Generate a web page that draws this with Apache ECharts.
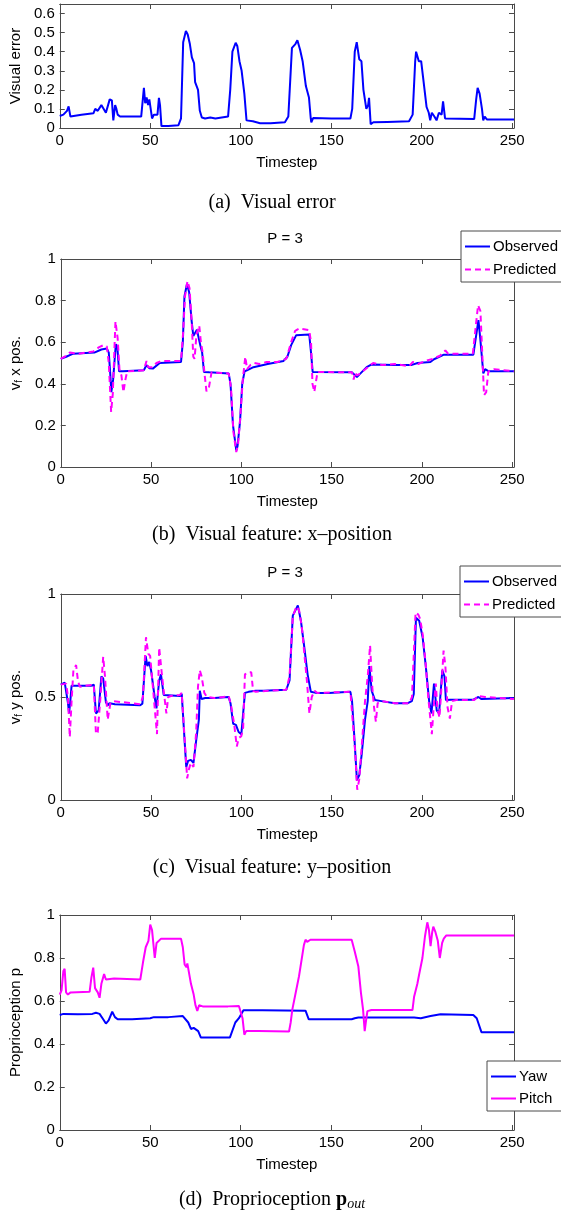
<!DOCTYPE html>
<html>
<head>
<meta charset="utf-8">
<script src="https://cdn.jsdelivr.net/npm/echarts@6/dist/echarts.min.js"></script>
<style>html,body{margin:0;padding:0;background:#fff}#c{width:561px;height:1216px}</style>
</head>
<body>
<div id="c"></div>
<script>
// ---------------- DATA ----------------
const xTicks = [0, 50, 100, 150, 200, 250];

const visualError = [[0,0.063],[2,0.07],[4,0.09],[4.9,0.113],[5.9,0.06],[7,0.07],[12,0.07],[18.6,0.077],[19.6,0.1],[21,0.09],[22,0.1],[23,0.12],[24,0.12],[25.5,0.08],[26.4,0.075],[27.6,0.15],[28.8,0.145],[29.6,0.04],[30.6,0.12],[31.3,0.1],[32,0.07],[33.3,0.06],[45,0.06],[46.5,0.21],[47.2,0.13],[48,0.16],[48.8,0.12],[49.5,0.15],[51,0.05],[52,0.07],[53,0.08],[54,0.07],[54.8,0.158],[55.4,0.12],[56.2,0.01],[60,0.01],[65.6,0.015],[67,0.05],[68.2,0.45],[69.7,0.508],[70.7,0.49],[71.9,0.44],[73,0.37],[74.2,0.34],[74.8,0.24],[76.4,0.2],[77.4,0.09],[78.5,0.055],[80.3,0.05],[83.2,0.055],[86,0.05],[93,0.06],[94.2,0.2],[95.4,0.4],[97.2,0.447],[98.1,0.43],[99.3,0.35],[100.5,0.3],[102,0.18],[103.2,0.04],[106.7,0.035],[110.7,0.025],[116.5,0.025],[124.4,0.03],[126.3,0.06],[128.3,0.42],[130.2,0.44],[131.3,0.46],[132.8,0.41],[134.2,0.35],[136,0.22],[137.7,0.16],[138.7,0.05],[139,0.03],[140,0.052],[150,0.05],[160.6,0.05],[161.6,0.1],[163,0.4],[164.1,0.45],[165.5,0.36],[166.7,0.35],[167.8,0.2],[169.4,0.1],[170.4,0.12],[170.9,0.158],[171.8,0.02],[173.3,0.03],[181,0.032],[193,0.035],[195,0.07],[196.4,0.35],[196.9,0.4],[198.4,0.35],[199.7,0.35],[200.7,0.27],[201.7,0.26],[202.7,0.11],[203.9,0.08],[204.7,0.04],[205.6,0.08],[207,0.06],[208.2,0.04],[209.5,0.08],[211,0.07],[211.8,0.14],[212.9,0.05],[229,0.047],[230.1,0.15],[230.9,0.21],[232,0.18],[233.3,0.1],[234,0.04],[234.8,0.06],[236,0.045],[251,0.045]];

const observedX = [[0,0.52],[3,0.53],[6.9,0.545],[18.6,0.55],[22.5,0.565],[25.5,0.57],[26.6,0.55],[27.4,0.45],[28,0.36],[29,0.42],[30.5,0.59],[31.3,0.58],[32.3,0.46],[34.3,0.46],[46,0.465],[47.5,0.49],[49,0.475],[51,0.473],[54.8,0.5],[66.6,0.505],[67.6,0.6],[68.5,0.82],[69.9,0.88],[71.1,0.84],[72.5,0.7],[73.4,0.63],[74.2,0.626],[75.4,0.66],[76.5,0.658],[77.4,0.58],[78.3,0.55],[79.3,0.457],[82.3,0.455],[93,0.45],[94,0.4],[95.4,0.2],[97.2,0.08],[97.9,0.1],[99.3,0.22],[100.5,0.4],[101.8,0.46],[103.1,0.465],[106.7,0.48],[114.6,0.495],[123.4,0.51],[125.5,0.53],[127.6,0.586],[130.4,0.634],[137.6,0.637],[138.6,0.55],[139.5,0.457],[161.3,0.455],[164,0.433],[166,0.45],[169.4,0.48],[172.2,0.493],[185,0.49],[194,0.49],[197.6,0.5],[204.7,0.505],[206.7,0.518],[212.2,0.54],[228.5,0.54],[229.5,0.6],[231.3,0.706],[232.3,0.62],[234,0.45],[235,0.47],[237,0.46],[251,0.46]];

const predictedX = [[0,0.52],[3,0.535],[5,0.55],[10,0.545],[18,0.555],[21,0.575],[23.5,0.585],[25.5,0.58],[26.6,0.5],[27.9,0.265],[28.8,0.35],[30.3,0.7],[31.5,0.62],[32.5,0.47],[33.6,0.44],[34.7,0.36],[35.8,0.42],[36.8,0.46],[46,0.465],[47.5,0.51],[48.5,0.48],[50.8,0.48],[53,0.5],[56,0.51],[66.6,0.51],[67.8,0.65],[68.8,0.82],[70.2,0.894],[71.3,0.86],[72.5,0.7],[73.4,0.53],[74.1,0.52],[75.2,0.64],[76.7,0.68],[77.6,0.6],[78.6,0.55],[79.6,0.45],[80.7,0.364],[82,0.38],[83.5,0.455],[93,0.45],[94.3,0.38],[95.6,0.17],[97.2,0.072],[98.2,0.11],[99.5,0.25],[100.8,0.42],[102.2,0.53],[103.2,0.47],[105,0.49],[107,0.5],[110,0.495],[114,0.505],[120,0.505],[124.9,0.52],[127.6,0.6],[129.8,0.655],[132.2,0.666],[137.6,0.658],[138.6,0.6],[139.4,0.4],[140.4,0.361],[141.3,0.37],[142.2,0.457],[161.3,0.455],[162.2,0.42],[163,0.455],[164,0.44],[166,0.45],[170,0.48],[173,0.5],[178,0.49],[185,0.495],[193,0.485],[195,0.505],[198,0.495],[202,0.51],[206,0.52],[210,0.535],[213,0.56],[214.5,0.545],[228.2,0.545],[229.5,0.65],[231.1,0.778],[232.4,0.75],[233.4,0.55],[234.4,0.345],[235.6,0.36],[236.8,0.46],[240,0.47],[251,0.46]];

const observedY = [[0,0.56],[2.2,0.57],[3.1,0.565],[4,0.47],[4.6,0.42],[5.3,0.48],[6,0.555],[10,0.555],[17,0.555],[18.3,0.56],[19.5,0.42],[21,0.435],[22.5,0.6],[23.5,0.59],[25,0.475],[26,0.46],[27,0.47],[30,0.465],[44,0.46],[45.2,0.468],[47,0.7],[48,0.65],[49,0.67],[50,0.63],[52,0.5],[53,0.445],[54.5,0.58],[55.5,0.61],[57,0.51],[58,0.51],[66,0.505],[67,0.515],[68.5,0.3],[69.5,0.16],[70.5,0.19],[72,0.195],[73.5,0.18],[75,0.29],[76.5,0.39],[77,0.53],[78,0.49],[80,0.495],[85,0.495],[93,0.5],[94,0.47],[95.5,0.37],[97,0.365],[98.5,0.33],[100,0.32],[101,0.32],[102,0.52],[104,0.525],[108,0.53],[112.2,0.53],[124.9,0.535],[126.7,0.58],[128.5,0.895],[131.3,0.945],[133,0.87],[134.9,0.74],[136.7,0.61],[138.5,0.525],[141.3,0.52],[148.5,0.52],[160.4,0.525],[161.3,0.48],[162.7,0.29],[164,0.097],[165.3,0.12],[166.7,0.225],[168.5,0.39],[170,0.48],[170.9,0.65],[172.2,0.53],[174,0.485],[177.6,0.48],[184.9,0.47],[192.2,0.47],[194.4,0.48],[195.5,0.515],[196.7,0.885],[198.5,0.87],[200.4,0.79],[202.2,0.645],[204,0.48],[205.3,0.42],[206.7,0.565],[208.2,0.435],[209.5,0.42],[211.3,0.63],[212.5,0.6],[213.3,0.485],[215.8,0.487],[228.5,0.487],[231.3,0.5],[233,0.49],[251,0.495]];

const predictedY = [[0,0.56],[3,0.565],[4,0.5],[5,0.305],[6,0.48],[7,0.63],[8.5,0.655],[9.5,0.58],[10.5,0.55],[18.3,0.56],[19.5,0.32],[20.5,0.33],[22,0.5],[23.5,0.695],[24.5,0.6],[26,0.39],[27.5,0.47],[29,0.48],[44,0.465],[45.5,0.5],[47.2,0.79],[48.5,0.71],[49.5,0.7],[50.5,0.6],[52,0.45],[53.3,0.32],[54.5,0.74],[56,0.61],[57,0.53],[58.5,0.42],[59.5,0.5],[61,0.505],[66,0.51],[67,0.52],[68.8,0.27],[70,0.105],[71,0.15],[72,0.18],[73.5,0.16],[75,0.33],[76,0.55],[77,0.63],[78,0.6],[79.5,0.52],[81,0.5],[85,0.495],[90,0.5],[93,0.505],[94.5,0.45],[96,0.37],[97.5,0.26],[98.5,0.3],[100,0.31],[101,0.35],[102,0.61],[103.5,0.62],[105.5,0.62],[106.5,0.53],[108,0.525],[115,0.53],[124.9,0.535],[126.7,0.6],[128.5,0.89],[130.5,0.94],[132,0.92],[133.5,0.84],[135,0.7],[136.3,0.58],[137.7,0.42],[139,0.5],[140.5,0.53],[142,0.52],[160.4,0.525],[161.5,0.52],[163,0.24],[164.2,0.05],[165.3,0.1],[167,0.3],[168.5,0.48],[170,0.6],[171.3,0.75],[172.5,0.55],[173.5,0.45],[174.5,0.38],[175.5,0.47],[178,0.48],[185,0.47],[193,0.47],[194.5,0.5],[196.5,0.91],[198,0.9],[199,0.88],[200.5,0.8],[202,0.67],[203.5,0.5],[205.5,0.32],[206.5,0.45],[207.7,0.565],[208.5,0.45],[209.7,0.4],[210.5,0.5],[212,0.725],[213,0.65],[214.2,0.45],[215.5,0.395],[216.7,0.48],[219,0.485],[229,0.485],[231,0.505],[235,0.5],[251,0.49]];

const yaw = [[0,0.535],[2,0.54],[10,0.538],[18,0.54],[20,0.545],[22,0.54],[24,0.515],[25.5,0.495],[27,0.51],[29,0.55],[30.5,0.525],[32,0.515],[40,0.515],[50,0.52],[52,0.525],[60,0.525],[68,0.53],[69,0.53],[71,0.5],[72.5,0.47],[74,0.475],[75,0.48],[76.5,0.46],[78,0.43],[80,0.43],[94,0.43],[97,0.5],[99,0.52],[101.5,0.557],[112,0.557],[135.8,0.555],[137.6,0.515],[161.3,0.515],[163,0.52],[165,0.523],[172,0.523],[195.8,0.523],[199.5,0.52],[204.9,0.53],[210.4,0.538],[228.5,0.535],[230.4,0.52],[233,0.455],[251,0.455]];

const pitch = [[0,0.63],[1,0.65],[2,0.74],[2.7,0.75],[3.5,0.64],[4.5,0.63],[6,0.64],[16.5,0.643],[17.5,0.71],[18.5,0.755],[19.5,0.66],[21,0.64],[22,0.615],[23,0.68],[24.5,0.725],[25.5,0.7],[30,0.705],[44.5,0.7],[46,0.78],[47.5,0.85],[49,0.88],[50,0.955],[51,0.93],[52.5,0.8],[53.5,0.87],[56,0.89],[67,0.89],[68,0.85],[69,0.77],[70,0.757],[70.5,0.775],[71.5,0.77],[72.5,0.68],[74,0.63],[75,0.58],[76,0.554],[77,0.58],[79,0.575],[93,0.575],[99,0.577],[100,0.575],[101,0.52],[102,0.443],[103,0.46],[110,0.46],[126.7,0.458],[127.6,0.5],[128.5,0.56],[132.2,0.715],[134.9,0.86],[135.8,0.885],[136.7,0.875],[138.5,0.885],[161.3,0.885],[163,0.83],[165,0.76],[166.4,0.64],[167.6,0.56],[168.5,0.46],[169.1,0.5],[170,0.553],[172.2,0.558],[194.9,0.558],[195.8,0.62],[197.6,0.68],[198.5,0.72],[200.4,0.8],[201.8,0.9],[203.1,0.966],[204,0.93],[204.9,0.855],[205.8,0.92],[206.4,0.946],[207.6,0.92],[208.9,0.88],[210,0.8],[211.3,0.87],[212.2,0.89],[213.6,0.905],[251,0.905]];

// ---------------- CHART ----------------
const SANS = '"Liberation Sans", Arial, Helvetica, sans-serif';
const SERIF = '"Liberation Serif", "Times New Roman", serif';
const AX = '#4a4a4a';
const BLUE = '#0000ff', MAG = '#ff00ff';

const grids = [
  {left: 56, top: 4,   width: 458, height: 124},
  {left: 56, top: 259, width: 458, height: 208},
  {left: 56, top: 594, width: 458, height: 206},
  {left: 56, top: 915, width: 458, height: 215}
];
const yCfg = [
  {max: 0.65, interval: 0.1, name: 'Visual error', gap: 32},
  {max: 1, interval: 0.2, name: 'v{s|f} x pos.', gap: 36},
  {max: 1, interval: 0.5, name: 'v{s|f} y pos.', gap: 36},
  {max: 1, interval: 0.2, name: 'Proprioception p', gap: 32}
];

function xFmt(v){ return xTicks.indexOf(v) >= 0 ? String(v) : ''; }
function yFmt(step){
  return function(v){
    const k = v / step;
    if (Math.abs(k - Math.round(k)) > 1e-6) return '';
    return String(+v.toFixed(2));
  };
}

const xAxis = [], yAxis = [];
grids.forEach((g, i) => {
  const common = {
    type: 'value', gridIndex: i, min: 0, max: 251, interval: 50,
    axisLine: {show: true, onZero: false, lineStyle: {color: AX, width: 1}},
    axisTick: {show: true, inside: true, length: 5, lineStyle: {color: AX}},
    splitLine: {show: false}
  };
  xAxis.push(Object.assign({}, common, {
    position: 'bottom',
    axisLabel: {show: true, formatter: xFmt, color: '#000', fontSize: 15, fontFamily: SANS, margin: 5},
    name: 'Timestep', nameLocation: 'middle', nameGap: 27,
    nameTextStyle: {color: '#000', fontSize: 15, fontFamily: SANS}
  }));
  xAxis.push(Object.assign({}, common, {position: 'top', axisLabel: {show: false}}));
  const yc = yCfg[i];
  const ycommon = {
    type: 'value', gridIndex: i, min: 0, max: yc.max, interval: yc.interval,
    axisLine: {show: true, onZero: false, lineStyle: {color: AX, width: 1}},
    axisTick: {show: true, inside: true, length: 5, lineStyle: {color: AX}},
    splitLine: {show: false}
  };
  yAxis.push(Object.assign({}, ycommon, {
    position: 'left',
    axisLabel: {show: true, formatter: yFmt(yc.interval), color: '#000', fontSize: 15, fontFamily: SANS, margin: 5},
    name: yc.name, nameLocation: 'middle', nameRotate: 90, nameGap: yc.gap,
    nameTextStyle: {color: '#000', fontSize: 15, fontFamily: SANS,
      rich: {s: {fontSize: 10, fontFamily: SANS, color: '#000', padding: [7, 0, 0, 0]}}}
  }));
  yAxis.push(Object.assign({}, ycommon, {position: 'right', axisLabel: {show: false}}));
});

function line(name, data, gi, color, dashed){
  return {
    name: name, type: 'line', data: data,
    xAxisIndex: gi * 2, yAxisIndex: gi * 2,
    symbol: 'none', showSymbol: false, animation: false,
    color: color,
    lineStyle: {color: color, width: 2, type: dashed ? [6, 4] : 'solid'},
    z: dashed ? 3 : 2
  };
}

const series = [
  line('Visual error', visualError, 0, BLUE, false),
  line('Observed', observedX, 1, BLUE, false),
  line('Predicted', predictedX, 1, MAG, true),
  line('Observed', observedY, 2, BLUE, false),
  line('Predicted', predictedY, 2, MAG, true),
  line('Yaw', yaw, 3, BLUE, false),
  line('Pitch', pitch, 3, MAG, false)
];

function legendBox(names, left, top, padRight, gap){
  return {
    data: names, orient: 'vertical', left: left, top: top,
    backgroundColor: '#fff', borderColor: AX, borderWidth: 1, borderRadius: 0,
    padding: [8, padRight, 5, 3], itemGap: gap, itemWidth: 25, itemHeight: 14,
    selectedMode: false,
    itemStyle: {opacity: 0},
    textStyle: {color: '#000', fontSize: 15, fontFamily: SANS, padding: [0, 0, 0, -2]}
  };
}

function txt(text, x, y, size, family, rich){
  const st = {text: text, x: 0, y: 0, align: 'center', verticalAlign: 'middle',
    fontSize: size, fontFamily: family, fill: '#000'};
  if (rich) st.rich = rich;
  return {type: 'text', x: x, y: y, style: st, z: 100};
}

const capRich = {
  b: {fontSize: 20, fontFamily: SERIF, fontWeight: 'bold', fill: '#000'},
  o: {fontSize: 14, fontFamily: SERIF, fontStyle: 'italic', fill: '#000', padding: [8, 0, 0, 0]}
};

const option = {
  backgroundColor: '#fff',
  animation: false,
  grid: grids.map(g => Object.assign({containLabel: false}, g)),
  xAxis: xAxis,
  yAxis: yAxis,
  legend: [
    legendBox(['Observed', 'Predicted'], 461, 231, 14, 8),
    legendBox(['Observed', 'Predicted'], 460, 566, 14, 8),
    legendBox(['Yaw', 'Pitch'], 487, 1061, 12, 7)
  ],
  series: series,
  graphic: [
    txt('P = 3', 285, 239, 15, SANS),
    txt('P = 3', 285, 573, 15, SANS),
    txt('(a)  Visual error', 272, 203, 20, SERIF),
    txt('(b)  Visual feature: x\u2013position', 272, 535, 20, SERIF),
    txt('(c)  Visual feature: y\u2013position', 272, 868, 20, SERIF),
    txt('(d)  Proprioception {b|p}{o|out}', 272, 1200, 20, SERIF, capRich)
  ]
};

const chart = echarts.init(document.getElementById('c'), null, {renderer: 'canvas'});
chart.setOption(option);
</script>
</body>
</html>
